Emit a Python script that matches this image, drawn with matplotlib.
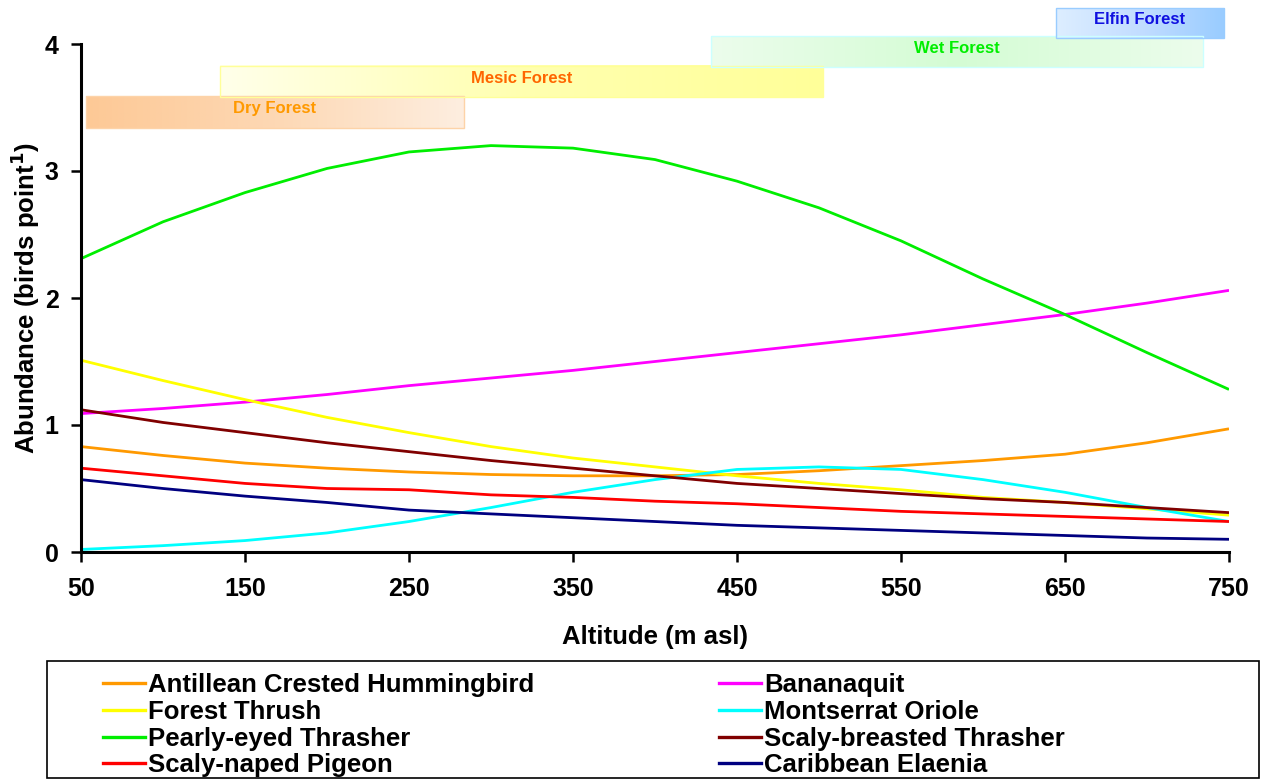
import numpy as np
import matplotlib
matplotlib.use("Agg")
import matplotlib.pyplot as plt
from matplotlib.colors import LinearSegmentedColormap
from matplotlib.patches import Rectangle
from matplotlib.lines import Line2D

plt.rcParams['font.family'] = ['Liberation Sans', 'DejaVu Sans']

altitude = [50, 100, 150, 200, 250, 300, 350, 400, 450, 500, 550, 600, 650, 700, 750]

hummingbird = [0.83, 0.76, 0.70, 0.66, 0.63, 0.61, 0.60, 0.60, 0.61, 0.64, 0.68, 0.72, 0.77, 0.86, 0.97]
bananaquit = [1.09, 1.13, 1.18, 1.24, 1.31, 1.37, 1.43, 1.50, 1.57, 1.64, 1.71, 1.79, 1.87, 1.96, 2.06]
forest_thrush = [1.51, 1.35, 1.20, 1.06, 0.94, 0.83, 0.74, 0.67, 0.60, 0.54, 0.49, 0.43, 0.39, 0.34, 0.29]
oriole = [0.02, 0.05, 0.09, 0.15, 0.24, 0.35, 0.47, 0.57, 0.65, 0.67, 0.65, 0.57, 0.47, 0.35, 0.24]
pearly_eyed = [2.31, 2.60, 2.83, 3.02, 3.15, 3.20, 3.18, 3.09, 2.92, 2.71, 2.45, 2.15, 1.87, 1.57, 1.28]
scaly_breasted = [1.12, 1.02, 0.94, 0.86, 0.79, 0.72, 0.66, 0.60, 0.54, 0.50, 0.46, 0.42, 0.39, 0.35, 0.31]
pigeon = [0.66, 0.60, 0.54, 0.50, 0.49, 0.45, 0.43, 0.40, 0.38, 0.35, 0.32, 0.30, 0.28, 0.26, 0.24]
elaenia = [0.57, 0.50, 0.44, 0.39, 0.33, 0.30, 0.27, 0.24, 0.21, 0.19, 0.17, 0.15, 0.13, 0.11, 0.10]

species = [
    ("Antillean Crested Hummingbird", hummingbird, "#FF9900"),
    ("Bananaquit", bananaquit, "#FF00FF"),
    ("Forest Thrush", forest_thrush, "#FFFF00"),
    ("Montserrat Oriole", oriole, "#00FFFF"),
    ("Pearly-eyed Thrasher", pearly_eyed, "#00EE00"),
    ("Scaly-breasted Thrasher", scaly_breasted, "#800000"),
    ("Scaly-naped Pigeon", pigeon, "#FF0000"),
    ("Caribbean Elaenia", elaenia, "#000080"),
]

# habitat bands: name, x range, y range, gradient stops, edge colour, text colour
zones = [
    ("Dry Forest", (53, 283.5), (3.34, 3.59), ["#FDC996", "#FDD8B4", "#FEEEE0"], "#FDD3A8", "#FF9900"),
    ("Mesic Forest", (135, 502.6), (3.58, 3.83), ["#FFFFEA", "#FFFFB0", "#FFFF99"], "#FFFF99", "#FF6600"),
    ("Wet Forest", (434, 734), (3.82, 4.06), ["#ECFDEC", "#D4FCD4", "#ECFDEC"], "#CCFFFF", "#00EE00"),
    ("Elfin Forest", (644.5, 747), (4.05, 4.28), ["#DDEEFF", "#C2DDFF", "#99CCFF"], "#99CCFF", "#1010E0"),
]

W, H = 1262, 780
fig = plt.figure(figsize=(W / 100, H / 100), dpi=100)
ax = fig.add_axes([81 / W, 1 - 552 / H, 1148 / W, (552 - 44) / H])

for name, vals, col in species:
    ax.plot(altitude, vals, color=col, lw=2.0, solid_capstyle='butt')

grad = np.linspace(0, 1, 256).reshape(1, -1)
for name, (x0, x1), (y0, y1), stops, edge, tcol in zones:
    cmap = LinearSegmentedColormap.from_list(name, stops)
    im = ax.imshow(grad, cmap=cmap, extent=(x0, x1, y0, y1), aspect='auto',
                   interpolation='bilinear', zorder=3)
    im.set_clip_on(False)
    ax.add_patch(Rectangle((x0, y0), x1 - x0, y1 - y0, fill=False, ec=edge,
                           lw=1.0, clip_on=False, zorder=4))
    ax.text((x0 + x1) / 2, (y0 + y1) / 2 + 0.025, name, color=tcol, fontsize=12,
            fontweight='bold', ha='center', va='center', zorder=5, clip_on=False)

ax.set_xlim(50, 750)
ax.set_ylim(0, 4)
ax.set_xticks([50, 150, 250, 350, 450, 550, 650, 750])
ax.set_yticks([0, 1, 2, 3, 4])
for s in ['top', 'right']:
    ax.spines[s].set_visible(False)
for s in ['left', 'bottom']:
    ax.spines[s].set_linewidth(2.2)
ax.tick_params(axis='x', direction='out', length=7, width=1.8, pad=11, labelsize=18)
ax.tick_params(axis='y', direction='out', length=7, width=1.8, pad=9, labelsize=18)
for lab in ax.get_xticklabels() + ax.get_yticklabels():
    lab.set_fontweight('bold')

ax.set_xlabel("Altitude (m asl)", fontsize=18.5, fontweight='bold')
ax.xaxis.set_label_coords(0.5, -(637 - 552) / 508, transform=ax.transAxes)
ax.xaxis.label.set_va('center')
ax.set_ylabel(r"Abundance (birds point$^{\mathbf{1}}$)", fontsize=18.5, fontweight='bold')
ax.yaxis.set_label_coords((25 - 81) / 1148, 0.5, transform=ax.transAxes)
ax.yaxis.label.set_va('center')

# legend frame and entries
fig.add_artist(Rectangle((47 / W, 1 - 778 / H), (1259 - 47) / W, (778 - 661) / H,
                         transform=fig.transFigure, fill=False, ec='black', lw=1.2))
order = [0, 2, 4, 6, 1, 3, 5, 7]
handles = [Line2D([], [], color=species[i][2], lw=2.4) for i in order]
labels = [species[i][0] for i in order]
fig.legend(handles, labels, loc='upper left', bbox_to_anchor=(103 / W, 1 - 673 / H),
           ncol=2, frameon=False, prop={'weight': 'bold', 'size': 18.5},
           handlelength=1.63, handletextpad=0.12, labelspacing=0.11, columnspacing=7.2,
           borderpad=0, borderaxespad=0)

fig.savefig("out.png", dpi=100)
